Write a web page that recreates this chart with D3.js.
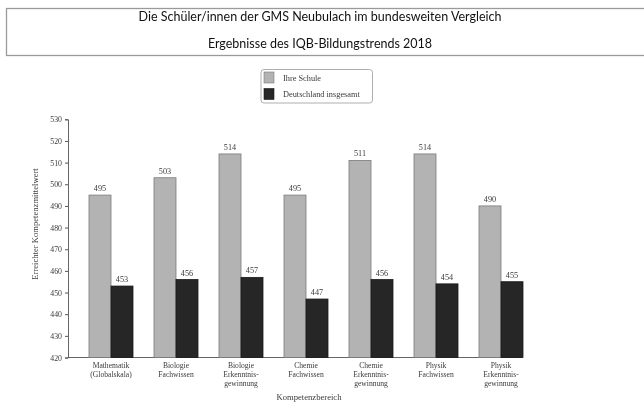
<!DOCTYPE html>
<html><head><meta charset="utf-8">
<script src="https://cdn.jsdelivr.net/npm/d3@7"></script>
<style>body{margin:0;background:#fff}svg{display:block;will-change:transform}</style>
</head><body>
<svg id="c" width="644" height="403"></svg>
<script>
const categories = [
  ["Mathematik","(Globalskala)"],
  ["Biologie","Fachwissen"],
  ["Biologie","Erkenntnis-","gewinnung"],
  ["Chemie","Fachwissen"],
  ["Chemie","Erkenntnis-","gewinnung"],
  ["Physik","Fachwissen"],
  ["Physik","Erkenntnis-","gewinnung"]
];
const seriesNames = ["Ihre Schule","Deutschland insgesamt"];
const schule = [495, 503, 514, 495, 511, 514, 490];
const deutschland = [453, 456, 457, 447, 456, 454, 455];
const yTicks = [420,430,440,450,460,470,480,490,500,510,520,530];
const titleLines = ["Die Schüler/innen der GMS Neubulach im bundesweiten Vergleich","Ergebnisse des IQB-Bildungstrends 2018"];

const svg = d3.select("#c");
const serif = "'Liberation Serif', 'DejaVu Serif', serif";
const colors = ["#b3b3b3", "#262626"];
const strokes = ["#7a7a7a", "#1a1a1a"];
const txt = "#3a3a3a";

// Title box
svg.append("rect").attr("x",6.5).attr("y",8.5).attr("width",660).attr("height",47)
  .attr("fill","none").attr("stroke","#9a9a9a").attr("stroke-width",1.3);
svg.selectAll("text.title").data(titleLines).join("text")
  .attr("x",320).attr("y",(d,i)=>21+i*26.5)
  .attr("text-anchor","middle").attr("font-family","Lato, 'Open Sans', sans-serif")
  .attr("font-size",12.5).attr("fill","#111").text(d=>d);

// Scales
const keys = categories.map(c=>c.join(" "));
const x = d3.scaleBand().domain(keys).range([78.5,533.5]).paddingInner(21/65).paddingOuter(21/130);
const x1 = d3.scaleBand().domain([0,1]).range([0,x.bandwidth()]);
const y = d3.scaleLinear().domain([420,530]).range([357.5,119.3]);

// Y axis
const yAxis = svg.append("g").attr("transform","translate(68,0)")
  .call(d3.axisLeft(y).tickValues(yTicks).tickSize(3).tickPadding(3).tickFormat(d3.format("d")));
yAxis.select(".domain").attr("stroke","#555").attr("stroke-width",0.9);
yAxis.selectAll(".tick line").attr("stroke","#555");
yAxis.selectAll("text").attr("font-family",serif).attr("font-size",7.8).attr("fill",txt);

// X axis line
svg.append("line").attr("x1",68).attr("x2",522).attr("y1",357.5).attr("y2",357.5)
  .attr("stroke","#555").attr("stroke-width",0.9);

// Bars
const data = keys.map((k,i)=>({k, vals:[schule[i], deutschland[i]]}));
const g = svg.selectAll("g.grp").data(data).join("g").attr("transform",d=>`translate(${x(d.k)},0)`);
g.selectAll("rect").data(d=>d.vals.map((v,j)=>({v,j}))).join("rect")
  .attr("x",d=>x1(d.j)).attr("width",x1.bandwidth())
  .attr("y",d=>y(d.v)).attr("height",d=>y(420)-y(d.v))
  .attr("fill",d=>colors[d.j]).attr("stroke",d=>strokes[d.j]).attr("stroke-width",0.8);
g.selectAll("text.val").data(d=>d.vals.map((v,j)=>({v,j}))).join("text")
  .attr("class","val").attr("x",d=>x1(d.j)+x1.bandwidth()/2).attr("y",d=>y(d.v)-4)
  .attr("text-anchor","middle").attr("font-family",serif).attr("font-size",8.2).attr("fill",txt)
  .text(d=>d.v);

// Category labels
const cl = svg.selectAll("text.cat").data(categories).join("text")
  .attr("class","cat").attr("text-anchor","middle").attr("font-family",serif)
  .attr("font-size",7.6).attr("fill",txt);
cl.each(function(d,i){
  const t = d3.select(this);
  d.forEach((line,j)=>{
    t.append("tspan").attr("x",x(keys[i])+x.bandwidth()/2).attr("y",367.5+j*9).text(line);
  });
});

// Axis titles
svg.append("text").attr("transform","translate(38,224) rotate(-90)")
  .attr("text-anchor","middle").attr("font-family",serif).attr("font-size",8.6).attr("fill",txt)
  .text("Erreichter Kompetenzmittelwert");
svg.append("text").attr("x",309).attr("y",400).attr("text-anchor","middle")
  .attr("font-family",serif).attr("font-size",8.6).attr("fill",txt).text("Kompetenzbereich");

// Legend
const lg = svg.append("g");
lg.append("rect").attr("x",261).attr("y",69.5).attr("width",111.5).attr("height",33.5).attr("rx",3)
  .attr("fill","#fff").attr("stroke","#999").attr("stroke-width",0.8);
seriesNames.forEach((n,i)=>{
  lg.append("rect").attr("x",264).attr("y",72+i*16.5).attr("width",10).attr("height",11)
    .attr("fill",colors[i]).attr("stroke",strokes[i]).attr("stroke-width",0.6);
  lg.append("text").attr("x",283).attr("y",80.5+i*16.5).attr("font-family",serif)
    .attr("font-size",8.3).attr("fill",txt).text(n);
});
</script>
</body></html>
